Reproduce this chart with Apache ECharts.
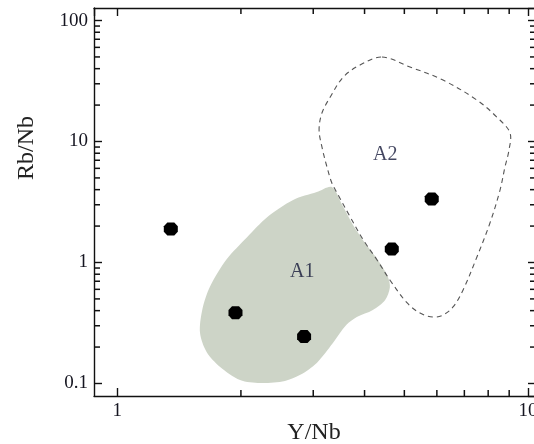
<!DOCTYPE html>
<html>
<head>
<meta charset="utf-8">
<script src="https://cdn.jsdelivr.net/npm/echarts@6/dist/echarts.min.js"></script>
<style>
html,body{margin:0;padding:0;background:#fff;}
#chart{width:534px;height:444px;}
</style>
</head>
<body>
<div id="chart"></div>
<script>
// Sample points: [Y/Nb, Rb/Nb]
const samplePoints = [
  [1.35, 1.89],
  [1.94, 0.385],
  [2.85, 0.244],
  [4.66, 1.29],
  [5.83, 3.35]
];

// Field A1 outline (filled)
const fieldA1 = [
  [3.33,4.21],[3.53,2.99],[3.75,2.04],[4.01,1.45],[4.31,1.05],[4.56,0.76],[4.61,0.62],
  [4.49,0.49],[4.19,0.405],[3.83,0.354],[3.61,0.304],[3.35,0.216],[3.06,0.148],[2.79,0.118],
  [2.56,0.105],[2.23,0.101],[1.99,0.107],[1.78,0.137],[1.65,0.182],[1.59,0.262],[1.61,0.405],
  [1.68,0.627],[1.84,1.05],[2.07,1.62],[2.32,2.38],[2.68,3.29],[3.06,3.82]
];

// Field A2 outline (dashed)
const fieldA2 = [
  [4.41,49.9],[5.16,41.3],[6.21,32.2],[7.51,22.0],[8.40,15.9],[9.04,11.8],[8.99,8.51],
  [8.79,6.16],[8.55,3.97],[8.08,2.12],[7.51,1.11],[6.95,0.593],[6.57,0.429],[6.21,0.368],
  [5.87,0.354],[5.46,0.382],[5.08,0.463],[4.61,0.717],[4.29,1.05],[3.97,1.54],[3.69,2.38],
  [3.43,3.75],[3.33,4.54],[3.24,6.16],[3.15,9.01],[3.10,12.5],[3.15,17.2],[3.30,23.3],
  [3.55,34.1],[3.90,42.9]
];

// Field labels
const fieldLabels = ['A1', 'A2'];
const fieldLabelPos = [[2.82, 0.835], [4.49, 7.74]];

// Minor tick values
const xMinorTicks = [2, 3, 4, 5, 6, 7, 8, 9];
const yMinorTicks = [0.2, 0.3, 0.4, 0.5, 0.6, 0.7, 0.8, 0.9,
                     2, 3, 4, 5, 6, 7, 8, 9,
                     20, 30, 40, 50, 60, 70, 80, 90];

const xTitle = 'Y/Nb';
const yTitle = 'Rb/Nb';
const xRange = [0.8776, 10.46];
const yRange = [0.0788, 126.9];

const serif = '"Times New Roman", "Liberation Serif", Tinos, serif';
const axisColor = '#111';

function makeAxis(pos, range, showLabels) {
  return {
    type: 'log',
    logBase: 10,
    position: pos,
    min: range[0],
    max: range[1],
    axisLine: {show: true, onZero: false, lineStyle: {color: axisColor, width: 1.4}},
    axisTick: {show: true, inside: true, length: 8, lineStyle: {color: axisColor, width: 1.4}},
    splitLine: {show: false},
    axisLabel: {
      show: showLabels,
      showMinLabel: false,
      showMaxLabel: false,
      color: '#151520',
      fontFamily: serif,
      fontSize: 19,
      margin: 6
    }
  };
}

// minor tick marks drawn as thin rect symbols sitting on the frame, pointing inward
function minorTickSeries(data, size, offset) {
  return {
    type: 'scatter',
    xAxisIndex: 0, yAxisIndex: 0,
    silent: true,
    clip: false,
    z: 5,
    symbol: 'rect',
    symbolSize: size,
    symbolOffset: offset,
    itemStyle: {color: axisColor, opacity: 1},
    emphasis: {disabled: true},
    data: data
  };
}

const chart = echarts.init(document.getElementById('chart'), null, {renderer: 'canvas'});

const option = {
  animation: false,
  backgroundColor: '#fff',
  grid: {left: 94, top: 8, width: 442, height: 388, outerBoundsMode: 'none', containLabel: false},
  xAxis: [makeAxis('bottom', xRange, true), makeAxis('top', xRange, false)],
  yAxis: [makeAxis('left', yRange, true), makeAxis('right', yRange, false)],
  graphic: [
    {type: 'text', x: 27, y: 148, rotation: Math.PI / 2,
     style: {text: yTitle, font: '24px ' + serif, fill: '#222', textAlign: 'center', textVerticalAlign: 'middle'}},
    {type: 'text', x: 314, y: 433,
     style: {text: xTitle, font: '24px ' + serif, fill: '#222', textAlign: 'center', textVerticalAlign: 'middle'}}
  ],
  series: [
    {
      type: 'custom',
      xAxisIndex: 0, yAxisIndex: 0,
      data: [fieldA1[0]],
      silent: true,
      renderItem: function (params, api) {
        const pts = fieldA1.map(function (p) { return api.coord(p); });
        return {type: 'polygon', shape: {points: pts, smooth: 0.3},
                style: {fill: '#cdd4c7', stroke: null}};
      }
    },
    {
      type: 'custom',
      xAxisIndex: 0, yAxisIndex: 0,
      data: [fieldA2[0]],
      silent: true,
      renderItem: function (params, api) {
        const pts = fieldA2.map(function (p) { return api.coord(p); });
        return {type: 'polygon', shape: {points: pts, smooth: 0.35},
                style: {fill: 'none', stroke: '#555', lineWidth: 1.1, lineDash: [5, 4]}};
      }
    },
    minorTickSeries(xMinorTicks.map(function (v) { return [v, yRange[0]]; }), [1.5, 6], [0, -3]),
    minorTickSeries(xMinorTicks.map(function (v) { return [v, yRange[1]]; }), [1.5, 6], [0, 3]),
    minorTickSeries(yMinorTicks.map(function (v) { return [xRange[0], v]; }), [6, 1.5], [3, 0]),
    minorTickSeries(yMinorTicks.map(function (v) { return [xRange[1], v]; }), [6, 1.5], [-3, 0]),
    {
      type: 'scatter',
      xAxisIndex: 0, yAxisIndex: 0,
      symbol: 'path://M3,0 L9,0 L12,3.5 L12,8.5 L9,12 L3,12 L0,8.5 L0,3.5 Z',
      symbolSize: [14, 13],
      itemStyle: {color: '#000', opacity: 1},
      data: samplePoints
    },
    {
      type: 'scatter',
      xAxisIndex: 0, yAxisIndex: 0,
      symbolSize: 0,
      silent: true,
      label: {show: true, position: 'inside', formatter: '{b}', color: '#141838',
              fontFamily: serif, fontSize: 20},
      data: fieldLabels.map(function (n, i) { return {name: n, value: fieldLabelPos[i]}; })
    }
  ]
};
chart.setOption(option);
</script>
</body>
</html>
